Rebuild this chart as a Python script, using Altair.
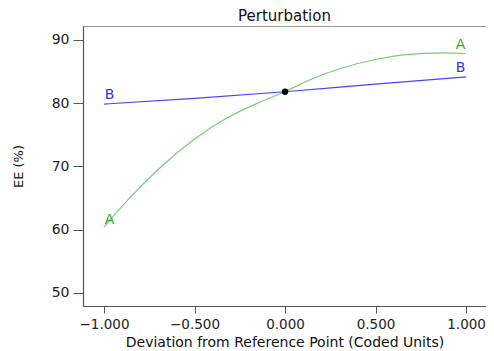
import altair as alt
import pandas as pd

# Series A (green curve)
x_a = [-1.0, -0.868, -0.686, -0.505, -0.324, -0.143, 0.0, 0.138, 0.319, 0.5, 0.681, 0.862, 1.0]
y_a = [60.4, 64.7, 69.9, 74.2, 77.6, 80.1, 81.8, 83.7, 85.6, 86.9, 87.7, 87.95, 87.85]
# Series B (blue line)
x_b = [-1.0, -0.5, 0.0, 0.5, 1.0]
y_b = [79.85, 80.75, 81.8, 83.0, 84.15]
# Reference point
ref_x = [0.0]
ref_y = [81.8]
# Labels at the ends of each trace
lab_text = ["A", "B", "A", "B"]
lab_series = ["A", "B", "A", "B"]
lab_x = [-0.97, -0.97, 0.97, 0.97]
lab_y = [61.5, 81.3, 89.2, 85.5]

x_ticks = [-1.0, -0.5, 0.0, 0.5, 1.0]
y_ticks = [50, 60, 70, 80, 90]

font = "DejaVu Sans"

lines = pd.DataFrame(
    {"x": x_a + x_b, "y": y_a + y_b, "s": ["A"] * len(x_a) + ["B"] * len(x_b)}
)
pts = pd.DataFrame({"x": ref_x, "y": ref_y})
labs = pd.DataFrame({"x": lab_x, "y": lab_y, "t": lab_text, "s": lab_series})

xs = alt.Scale(domain=[-1.116, 1.110], nice=False, zero=False)
ys = alt.Scale(domain=[47.9, 92.2], nice=False, zero=False)

xax = alt.Axis(
    values=x_ticks, format=".3f", title="Deviation from Reference Point (Coded Units)",
    grid=False, tickSize=7, labelPadding=4, titlePadding=5, labelFontSize=13.5,
)
yax = alt.Axis(
    values=y_ticks, title="EE (%)", grid=False, tickSize=10, labelPadding=4,
    titlePadding=26, titleFontSize=13,
)

line_colors = alt.Scale(domain=["A", "B"], range=["#77cc77", "#4444ff"])
text_colors = alt.Scale(domain=["A", "B"], range=["#33aa33", "#3333ee"])

base_lines = alt.Chart(lines).mark_line(strokeWidth=1.2, interpolate="monotone").encode(
    x=alt.X("x:Q", scale=xs, axis=xax),
    y=alt.Y("y:Q", scale=ys, axis=yax),
    color=alt.Color("s:N", scale=line_colors, legend=None),
    detail="s:N",
)

dot = alt.Chart(pts).mark_point(filled=True, color="black", size=40, opacity=1).encode(
    x=alt.X("x:Q", scale=xs), y=alt.Y("y:Q", scale=ys)
)

texts = alt.Chart(labs).mark_text(font=font, fontSize=14, baseline="middle", align="center").encode(
    x=alt.X("x:Q", scale=xs),
    y=alt.Y("y:Q", scale=ys),
    text="t:N",
    color=alt.Color("s:N", scale=text_colors, legend=None),
)

chart = (
    alt.layer(base_lines, dot, texts)
    .resolve_scale(color="independent")
    .properties(
        width=403,
        height=280,
        title=alt.TitleParams("Perturbation", font=font, fontSize=15, fontWeight="normal",
                              color="#111", offset=2, anchor="middle"),
        autosize=alt.AutoSizeParams(type="none"),
        padding={"left": 75, "top": 18, "right": 0, "bottom": 44},
    )
    .configure_view(stroke="#999999", strokeWidth=1)
    .configure_axis(
        labelFont=font, titleFont=font, labelFontSize=14, titleFontSize=14,
        labelColor="#222", titleColor="#111", titleFontWeight="normal",
        domainColor="#555", tickColor="#555", domainWidth=1.2,
    )
)

chart.save("out.html", embed_options={"renderer": "svg", "actions": False})
